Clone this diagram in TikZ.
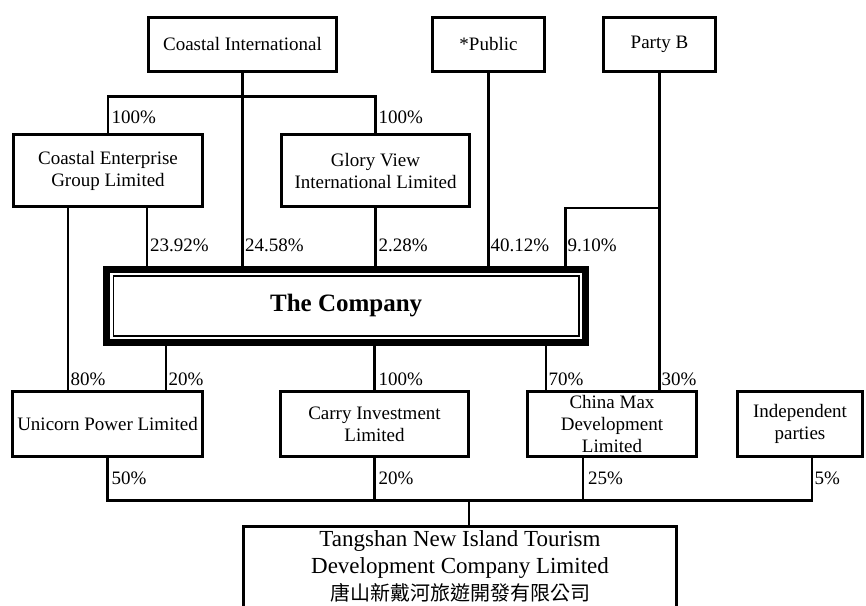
\documentclass[tikz,border=0pt]{standalone}
\usepackage{fontspec}
\setmainfont{Liberation Serif}
\newfontfamily\cjk{Noto Sans CJK TC}
\usepackage{tikz}

\tikzset{
	firm/.style={draw, line width=3pt, align=center, inner sep=0pt},
	pct/.style={anchor=west, inner sep=0pt},
	link/.style={line width=2.6pt}
}

\begin{document}
\begin{tikzpicture}[x=1pt,y=-1pt,font=\fontsize{19}{22}\selectfont]
	\useasboundingbox (0,0) rectangle (866,605);
	\clip (0,0) rectangle (866,605);
	% shareholders
	\node[firm, minimum width=188pt, minimum height=54pt] (ci) at (242.5,44.5) {Coastal International};
	\node[firm, minimum width=112pt, minimum height=54pt] (pu) at (488.5,44.5) {*Public};
	\node[firm, minimum width=112pt, minimum height=54pt] (pb) at (659.5,44.5) {Party B};
	\node[firm, minimum width=189pt, minimum height=72pt] (ce) at (108,170.5) {Coastal Enterprise\\Group Limited};
	\node[firm, minimum width=188pt, minimum height=72pt] (gv) at (375.5,170.5) {Glory View\\International Limited};
	% the company, thick frame with a thin one inside
	\node[firm, line width=7pt, minimum width=478.7pt, minimum height=73pt,
		font=\fontsize{25}{30}\selectfont\bfseries] (co) at (346.2,305.7) {The Company};
	\node[draw, line width=1.6pt, inner sep=0pt, minimum width=465.7pt, minimum height=60pt] (coin) at (co) {};
	% subsidiaries
	\node[firm, minimum width=190pt, minimum height=65pt] (un) at (107.5,424) {Unicorn Power Limited};
	\node[firm, minimum width=188pt, minimum height=65pt] (cy) at (374.5,424) {Carry Investment\\Limited};
	\node[firm, minimum width=169pt, minimum height=65pt] (cm) at (612,424) {China Max\\Development\\Limited};
	\node[firm, minimum width=125pt, minimum height=65pt] (ip) at (800,424) {Independent\\parties};
	\node[firm, anchor=north, minimum width=433pt, inner sep=4.8pt, text depth=90pt,
		font=\fontsize{23}{27}\selectfont] (tn) at (460,524.5)
		{Tangshan New Island Tourism\\Development Company Limited\\{\cjk\fontsize{20}{27}\selectfont 唐山新戴河旅遊開發有限公司}};

	\draw[link] (ci.south) -- (ci.south |- co.north);
	\draw[link] (ce.north) -- ++(0,-36.5) -| (gv.north);
	\draw[link] (pu.south) -- (pu.south |- co.north);
	\draw[link] (pb.south) -- (pb.south |- cm.north);
	\draw[link] (pb.south |- gv.south) -| ([xshift=219pt]co.north);
	\draw[link] ([xshift=39pt]ce.south) -- ([xshift=39pt]ce.south |- co.north);
	\draw[link] ([xshift=-40pt]ce.south) -- ([xshift=-40pt]ce.south |- un.north);
	\draw[link] (gv.south) -- (gv.south |- co.north);
	\draw[link] ([xshift=58.5pt]un.north |- co.south) -- ([xshift=58.5pt]un.north);
	\draw[link] (cy.north |- co.south) -- (cy.north);
	\draw[link] ([xshift=-66pt]cm.north |- co.south) -- ([xshift=-66pt]cm.north);
	% joint venture
	\draw[link] (un.south) -- ++(0,42.5) -| ([xshift=12pt]ip.south);
	\draw[link] (cy.south) -- ++(0,42.5);
	\draw[link] ([xshift=-29pt]cm.south) -- ++(0,42.5);
	\draw[link] ([xshift=9pt]tn.north) -- ++(0,-25.5);

	\foreach \px/\py/\pv [count=\i] in {111.5/117/100, 378.5/117/100,
		150/245/23.92, 245/245/24.58, 378.5/245/2.28, 490.5/245/40.12, 567.5/245/9.10,
		70.5/379/80, 168.5/379/20, 378.5/379/100, 548.5/379/70, 661.5/379/30,
		111.5/478/50, 378.5/478/20, 588/478/25, 814.5/478/5}
		\node[pct] (pct\i) at (\px,\py) {\pv\%};
\end{tikzpicture}
\end{document}
